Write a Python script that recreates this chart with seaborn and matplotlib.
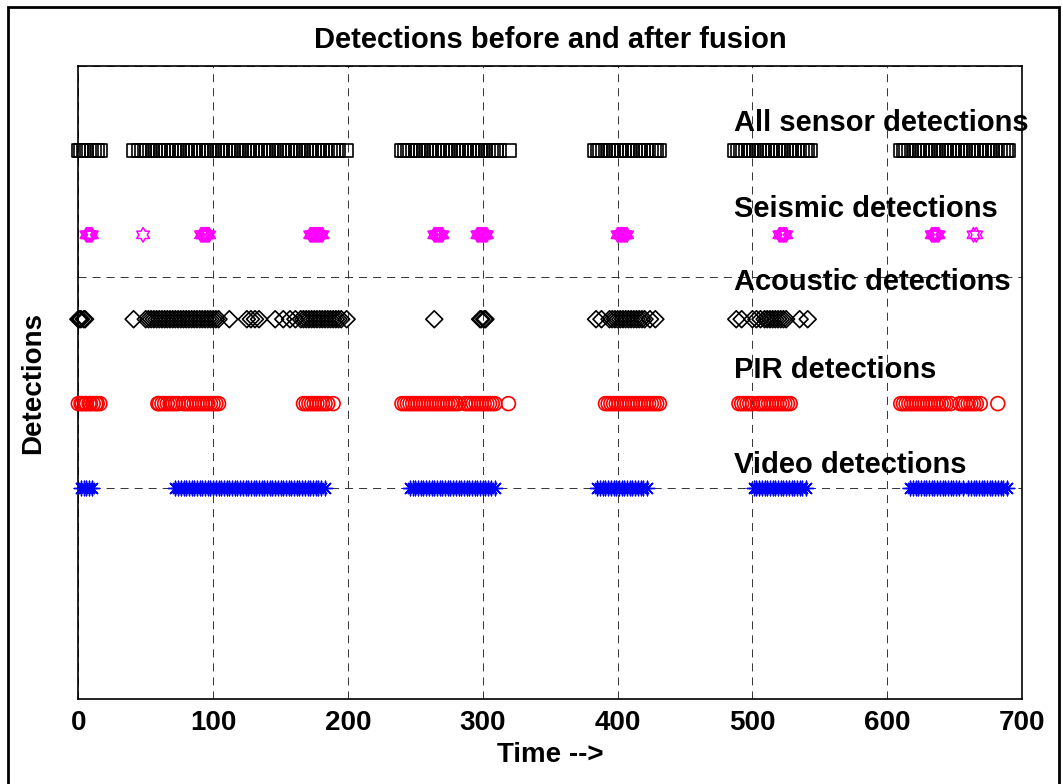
import numpy as np
import pandas as pd
import matplotlib
matplotlib.use("Agg")
import matplotlib.pyplot as plt
from matplotlib.path import Path
from matplotlib.patches import Rectangle
import seaborn as sns

# ---------------- data ----------------
ALL_T = [0, 2, 4, 6, 8, 10, 12, 14, 16,
         41, 45, 47, 49, 51, 53, 55, 57, 59, 61, 63, 65, 67, 69, 71, 73, 75, 77, 79, 81,
         83, 85, 87, 89, 91, 93, 95, 97, 99, 101, 103, 105, 107, 109, 111, 113, 115, 117,
         119, 121, 123, 125, 127, 129, 131, 133, 135, 137, 139, 141, 143, 145, 147, 149,
         151, 153, 155, 157, 159, 161, 163, 165, 167, 169, 171, 173, 175, 177, 179, 181,
         183, 185, 187, 189, 191, 193, 199,
         240, 242, 244, 246, 248, 250, 252, 254, 256, 258, 260, 262, 264, 266, 268, 270,
         272, 274, 276, 278, 280, 282, 284, 286, 288, 290, 292, 294, 296, 298, 300, 302,
         304, 306, 308, 310, 312, 320,
         383, 385, 387, 389, 391, 393, 395, 397, 399, 401, 403, 405, 407, 409, 411, 413,
         415, 417, 419, 421, 423, 425, 427, 429, 431,
         487, 489, 491, 493, 495, 497, 499, 501, 503, 505, 507, 509, 511, 513, 515, 517,
         519, 521, 523, 525, 527, 529, 531, 533, 535, 537, 539, 541, 543,
         610, 612, 614, 616, 618, 620, 622, 624, 626, 628, 630, 632, 634, 636, 638, 640,
         642, 644, 646, 648, 650, 652, 654, 656, 658, 660, 662, 664, 666, 668, 670, 672,
         674, 676, 678, 680, 682, 684, 686, 688, 690]

SEIS_T = [6, 7, 8, 9, 10, 48,
          91, 92, 93, 94, 95, 96, 97,
          172, 173, 174, 175, 176, 177, 178, 179, 180, 181,
          264, 265, 266, 267, 268, 269, 270,
          296, 297, 298, 299, 300, 301, 302, 303,
          400, 401, 402, 403, 404, 405, 406, 407,
          520, 521, 522, 523, 524, 525,
          633, 634, 635, 636, 637, 638,
          664, 666]

ACOU_T = [0, 1, 2, 4, 5,
          41, 50, 52, 54, 56, 58, 60, 62, 64, 66, 68, 70, 72, 74, 76, 78, 80, 82, 84, 86,
          88, 90, 92, 94, 96, 98, 100, 102, 104, 112,
          125, 128, 131, 134, 146, 152, 157, 161,
          165, 167, 169, 171, 173, 175, 177, 179, 181, 183, 185, 187, 189, 191, 193, 195, 199,
          264,
          298, 299, 301, 302,
          384, 388, 394, 396, 398, 400, 402, 404, 406, 408, 410, 412, 414, 416, 418, 420,
          424, 428,
          488, 492, 500, 503, 506, 509, 511, 513, 515, 517, 519, 521, 523, 525, 535, 541]

PIR_T = [0, 2, 3, 5, 6, 8, 9, 11, 13, 14, 16,
         59, 60, 62, 64, 66, 68, 70, 72, 74, 78, 80, 82, 84, 86, 88, 90, 92, 94, 96, 98,
         100, 102, 104,
         167, 169, 171, 173, 175, 177, 179, 181, 183, 185, 189,
         240, 242, 244, 246, 248, 250, 252, 254, 256, 258, 260, 262, 264, 266, 268, 270,
         272, 274, 276, 278, 280, 282, 287, 289, 291, 293, 295, 297, 299, 301, 303, 305,
         307, 309, 319,
         391, 393, 395, 397, 399, 401, 403, 405, 407, 409, 411, 413, 415, 417, 419, 421,
         423, 425, 427, 429, 431,
         490, 492, 494, 496, 498, 500, 504, 506, 508, 510, 512, 514, 516, 518, 520, 522,
         524, 526, 528,
         610, 612, 614, 616, 618, 620, 622, 624, 626, 628, 630, 632, 634, 636, 638, 640,
         642, 644, 647, 654, 656, 658, 660, 662, 664, 666, 669, 682]

VID_T = [2, 4, 6, 8, 10,
         72, 74, 76, 78, 80, 82, 84, 86, 88, 90, 92, 94, 96, 98, 100, 102, 104, 106, 108,
         110, 112, 114, 116, 118, 120, 122, 124, 126, 128, 130, 132, 134, 136, 138, 140,
         142, 144, 146, 148, 150, 152, 154, 156, 158, 160, 162, 164, 166, 168, 170, 172,
         174, 176, 178, 180, 183,
         246, 248, 250, 252, 254, 256, 258, 260, 262, 264, 266, 268, 270, 272, 274, 276,
         278, 280, 282, 284, 286, 288, 290, 292, 294, 296, 298, 300, 302, 304, 306, 309,
         385, 387, 389, 391, 393, 395, 397, 399, 401, 403, 405, 407, 409, 411, 413, 415,
         417, 419, 422,
         501, 503, 505, 507, 509, 511, 513, 515, 517, 519, 521, 523, 525, 527, 529, 531,
         533, 535, 537, 540,
         617, 619, 621, 623, 625, 627, 629, 631, 633, 635, 637, 639, 641, 643, 645, 647,
         649, 651, 653, 656, 660, 662, 664, 666, 668, 670, 672, 674, 676, 678, 680, 682,
         684, 686, 689]

SERIES = ["All sensor detections", "Seismic detections", "Acoustic detections",
          "PIR detections", "Video detections"]
SERIES_Y = [2.6, 2.2, 1.8, 1.4, 1.0]
LABEL_Y = [2.693, 2.283, 1.938, 1.52, 1.073]
LABEL_X = 486.5
X_TICKS = [0, 100, 200, 300, 400, 500, 600, 700]
Y_TICKS = [0, 1, 2, 3]

# ---------------- style ----------------
sns.set_style("white")
plt.rcParams["font.family"] = ["Liberation Sans", "DejaVu Sans"]
plt.rcParams["font.weight"] = "bold"
plt.rcParams["lines.scale_dashes"] = False
plt.rcParams["text.color"] = "black"
plt.rcParams["axes.labelcolor"] = "black"
plt.rcParams["xtick.color"] = "black"
plt.rcParams["ytick.color"] = "black"

fig = plt.figure(figsize=(10.63, 7.84), dpi=100)
fig.patch.set_facecolor("white")
ax = fig.add_axes([0.0737, 0.1084, 0.8878, 0.8074])

# hexagram marker (six-pointed star outline)
ang = np.deg2rad(np.arange(90, 450, 30))
rad = np.where(np.arange(12) % 2 == 0, 1.0, 0.5774)
verts = np.column_stack([rad * np.cos(ang), rad * np.sin(ang)])
verts = np.vstack([verts, verts[:1]])
codes = [Path.MOVETO] + [Path.LINETO] * 11 + [Path.CLOSEPOLY]
hexagram = Path(verts, codes)

times = [ALL_T, SEIS_T, ACOU_T, PIR_T, VID_T]
markers = ["s", hexagram, "D", "o", (8, 2, 0)]
colors = ["black", "#FF00FF", "black", "#FF0000", "#0000FF"]
msizes = [9.6, 10.5, 8.6, 10.0, 10.5]
lwidths = [1.2, 1.1, 1.2, 1.2, 1.0]

for name, t, yv, mk, col, ms, lw in zip(SERIES, times, SERIES_Y, markers, colors,
                                         msizes, lwidths):
    df = pd.DataFrame({"Time": t, "Detections": [yv] * len(t)})
    if mk == (8, 2, 0):
        sns.scatterplot(data=df, x="Time", y="Detections", ax=ax, marker=mk,
                        s=ms ** 2, color=col, linewidth=lw, legend=False, zorder=3,
                        clip_on=False)
    else:
        sns.scatterplot(data=df, x="Time", y="Detections", ax=ax, marker=mk,
                        s=ms ** 2, facecolor="none", edgecolor=col, linewidth=lw,
                        legend=False, zorder=3, clip_on=False)

for name, ly in zip(SERIES, LABEL_Y):
    ax.text(LABEL_X, ly, name, fontsize=21, fontweight="bold", ha="left",
            va="baseline", color="black", zorder=5)

ax.set_xlim(0, 700)
ax.set_ylim(0, 3)
ax.set_xticks(X_TICKS)
ax.set_xticklabels([str(v) for v in X_TICKS])
ax.set_yticks(Y_TICKS)
ax.set_yticklabels([])
ax.tick_params(axis="both", direction="in", length=5, width=0.8, color="black",
               labelcolor="black", labelsize=20, pad=8)
ax.grid(True, color="#333333", linewidth=0.7, linestyle=(0, (5.8, 4.3)))
ax.set_axisbelow(True)
for sp in ax.spines.values():
    sp.set_color("black")
    sp.set_linewidth(1.2)
    sp.set_visible(True)

ax.set_title("Detections before and after fusion", fontsize=21, fontweight="bold",
             pad=13, color="black")
ax.set_xlabel("Time -->", fontsize=20, fontweight="bold", labelpad=4, color="black")
ax.set_ylabel("Detections", fontsize=20, fontweight="bold", labelpad=15, color="black")

# outer frame of the figure
frame = Rectangle((7.5 / 1063, -0.1), (1058.5 - 7.5) / 1063, 1 - 7.5 / 784 + 0.1,
                  transform=fig.transFigure, fill=False, edgecolor="black",
                  linewidth=2.0, clip_on=False)
fig.add_artist(frame)

fig.savefig("out.png", dpi=100, facecolor="white")
